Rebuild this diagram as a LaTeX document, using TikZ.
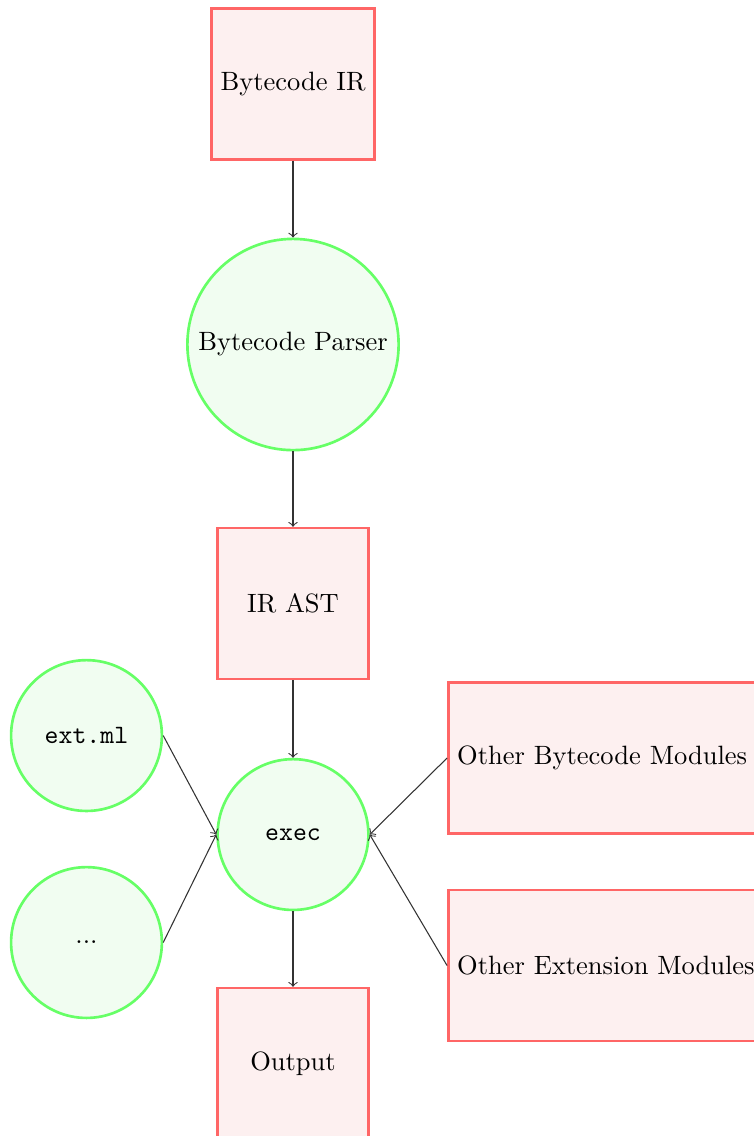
\documentclass[tikz,border=0pt]{standalone}
\usetikzlibrary{arrows}
\definecolor{boxline}{HTML}{FF6666}
\definecolor{boxfill}{HTML}{FDF0F0}
\definecolor{procline}{HTML}{66FF66}
\definecolor{procfill}{HTML}{F1FDF1}
\tikzset{
  data/.style={rectangle, draw=boxline, fill=boxfill, line width=1pt, minimum width=2cm, minimum height=2cm},
  proc/.style={circle, draw=procline, fill=procfill, line width=1pt, minimum size=2cm},
  flow/.style={->, draw=black!80}
}
\begin{document}
\begin{tikzpicture}
  \useasboundingbox (0,0) rectangle (10,-15.066);
  \begin{scope}
    \clip (0,0) rectangle (10,-15.066);
    \node[data] (bir) at (3.886,-1.114) {Bytecode IR};
    \node[proc] (parser) at (3.886,-4.569) {Bytecode Parser};
    \node[data] (ast) at (3.886,-8.004) {IR AST};
    \node[proc] (exec) at (3.886,-11.068) {\texttt{exec}};
    \node[data] (out) at (3.886,-14.105) {Output};
    \node[proc] (ext) at (1.147,-9.755) {\texttt{ext.ml}};
    \node[proc] (dots) at (1.147,-12.5) {...};
    \node[data, anchor=west] (obm) at (5.929,-10.053) {Other Bytecode Modules};
    \node[data, anchor=west] (oem) at (5.929,-12.805) {Other Extension Modules};

    \draw[flow] (bir) -- (parser);
    \draw[flow] (parser) -- (ast);
    \draw[flow] (ast) -- (exec);
    \draw[flow] (exec) -- (out);
    \draw[flow] (ext.east) -- (exec.west);
    \draw[flow] (dots.east) -- (exec.west);
    \draw[flow] (obm.west) -- (exec.east);
    \draw[flow] (oem.west) -- (exec.east);
  \end{scope}
\end{tikzpicture}
\end{document}
